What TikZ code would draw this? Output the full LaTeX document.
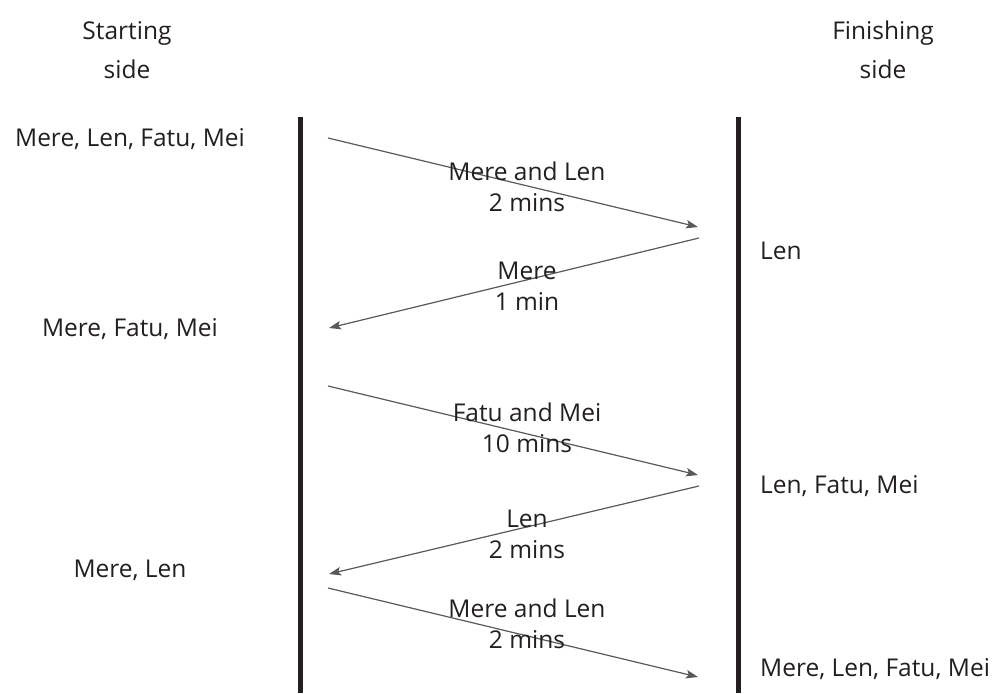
\documentclass[tikz,border=0pt]{standalone}
\usepackage{fontspec}
\setmainfont{Open Sans}
\usetikzlibrary{arrows.meta}
\definecolor{ink}{HTML}{231F20}
\definecolor{trip}{HTML}{58595B}
\tikzset{
  bank/.style={draw=ink, line width=5pt},
  crossing/.style={draw=trip, line width=1.2pt,
    -{Stealth[length=12pt, width=8.5pt, inset=2.5pt]}},
  txt/.style={text=ink, inner sep=0pt, font=\fontsize{24.5}{31}\selectfont},
  header/.style={txt, align=center, anchor=base, font=\fontsize{24.5}{39}\selectfont},
  leftgroup/.style={txt, anchor=base},
  rightgroup/.style={txt, anchor=base west},
  triplabel/.style={txt, align=center, anchor=base},
}
\begin{document}
\begin{tikzpicture}[x=1pt, y=-1pt]
  \useasboundingbox (0,0) rectangle (1003,693);

  % column headings (anchored on the baseline of the second line)
  \node[header] (hstart) at (127,78) {Starting\\side};
  \node[header] (hfinish) at (883,78) {Finishing\\side};

  % the two river banks
  \coordinate (ltop) at (300,117);
  \coordinate (lbot) at (300,693);
  \coordinate (rtop) at (738,117);
  \coordinate (rbot) at (738,693);
  \draw[bank] (ltop) -- (lbot);
  \draw[bank] (rtop) -- (rbot);

  % who is on the starting side
  \node[leftgroup] (s0) at (130,146) {Mere, Len, Fatu, Mei};
  \node[leftgroup] (s1) at (130,336) {Mere, Fatu, Mei};
  \node[leftgroup] (s2) at (130,577) {Mere, Len};

  % who is on the finishing side
  \node[rightgroup] (f1) at (760,259) {Len};
  \node[rightgroup] (f2) at (760,493) {Len, Fatu, Mei};
  \node[rightgroup] (f3) at (760,676) {Mere, Len, Fatu, Mei};

  % crossing end points
  \coordinate (a1s) at (328,138);
  \coordinate (a1e) at (698,227);
  \coordinate (a2s) at (699,238);
  \coordinate (a2e) at (329,328);
  \coordinate (a3s) at (328,386);
  \coordinate (a3e) at (698,475);
  \coordinate (a4s) at (699,486);
  \coordinate (a4e) at (329,574);
  \coordinate (a5s) at (328,588);
  \coordinate (a5e) at (698,677);

  \draw[crossing] (a1s) -- (a1e);
  \draw[crossing] (a2s) -- (a2e);
  \draw[crossing] (a3s) -- (a3e);
  \draw[crossing] (a4s) -- (a4e);
  \draw[crossing] (a5s) -- (a5e);

  % crossing labels (anchored on the baseline of the second line)
  \node[triplabel] (t1) at (527,211) {Mere and Len\\2 mins};
  \node[triplabel] (t2) at (527,310) {Mere\\1 min};
  \node[triplabel] (t3) at (527,452) {Fatu and Mei\\10 mins};
  \node[triplabel] (t4) at (527,558) {Len\\2 mins};
  \node[triplabel] (t5) at (527,648) {Mere and Len\\2 mins};
\end{tikzpicture}
\end{document}
